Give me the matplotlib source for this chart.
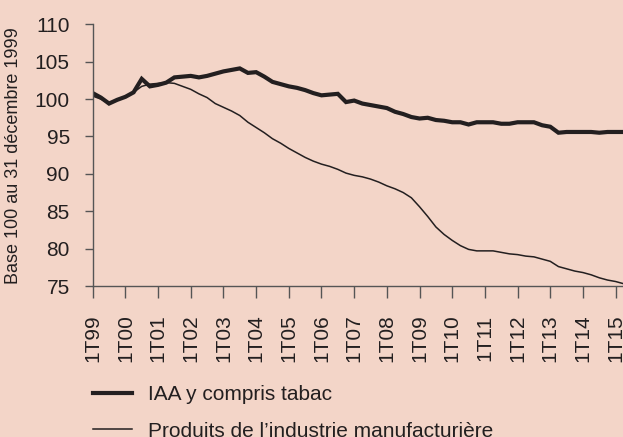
import matplotlib
matplotlib.use("Agg")
import matplotlib.pyplot as plt
import numpy as np

plt.rcParams['font.family'] = ['Liberation Sans', 'DejaVu Sans']

# Trimestres de 1T99 à 2T15
trimestres = np.arange(66)
annees = ["99", "00", "01", "02", "03", "04", "05", "06", "07", "08",
          "09", "10", "11", "12", "13", "14", "15"]
tick_labels = ["1T" + a for a in annees]

iaa = [100.8, 100.2, 99.4, 99.9, 100.3, 100.9, 102.7, 101.7, 101.9, 102.2,
       102.9, 103.0, 103.1, 102.9, 103.1, 103.4, 103.7, 103.9, 104.1, 103.5,
       103.6, 103.0, 102.3, 102.0, 101.7, 101.5, 101.2, 100.8, 100.5, 100.6,
       100.7, 99.6, 99.8, 99.4, 99.2, 99.0, 98.8, 98.3, 98.0, 97.6,
       97.4, 97.5, 97.2, 97.1, 96.9, 96.9, 96.6, 96.9, 96.9, 96.9,
       96.7, 96.7, 96.9, 96.9, 96.9, 96.5, 96.3, 95.5, 95.6, 95.6,
       95.6, 95.6, 95.5, 95.6, 95.6, 95.6]

manuf = [100.4, 100.0, 99.5, 99.9, 100.3, 100.9, 101.7, 102.0, 102.1, 102.2,
         102.1, 101.7, 101.3, 100.7, 100.2, 99.4, 98.9, 98.4, 97.8, 96.9,
         96.2, 95.5, 94.7, 94.1, 93.4, 92.8, 92.2, 91.7, 91.3, 91.0,
         90.6, 90.1, 89.8, 89.6, 89.3, 88.9, 88.4, 88.0, 87.5, 86.8,
         85.6, 84.3, 82.9, 81.9, 81.1, 80.4, 79.9, 79.7, 79.7, 79.7,
         79.5, 79.3, 79.2, 79.0, 78.9, 78.6, 78.3, 77.6, 77.3, 77.0,
         76.8, 76.5, 76.1, 75.8, 75.6, 75.3]

fond = "#F3D5C8"
trait = "#231F20"

fig = plt.figure(figsize=(6.23, 4.37), dpi=100, facecolor=fond)
ax = fig.add_axes([0.1488, 0.3455, 0.8512, 0.5989], facecolor=fond)

ax.plot(trimestres, iaa, color=trait, lw=3.0, label="IAA y compris tabac",
        solid_joinstyle="miter")
ax.plot(trimestres, manuf, color=trait, lw=1.1,
        label="Produits de l’industrie manufacturière")

ax.set_xlim(0, 64.9)
ax.set_ylim(75, 110)
ax.set_yticks(np.arange(75, 111, 5))
ax.set_xticks(np.arange(0, 65, 4))
ax.set_xticklabels(tick_labels, rotation=90)

for s in ["top", "right"]:
    ax.spines[s].set_visible(False)
for s in ["left", "bottom"]:
    ax.spines[s].set_color("#555555")
    ax.spines[s].set_linewidth(1.0)

ax.tick_params(axis="y", length=5.5, width=1.0, color="#555555",
               labelsize=15, labelcolor=trait, pad=11)
ax.tick_params(axis="x", length=8.5, width=1.0, color="#555555",
               labelsize=15, labelcolor=trait, pad=12)

ax.set_ylabel("Base 100 au 31 décembre 1999", fontsize=13, color=trait)
ax.yaxis.set_label_coords(-0.133, 0.5)

ax.legend(loc="upper left", bbox_to_anchor=(0.149, 0.118),
          bbox_transform=fig.transFigure, frameon=False, fontsize=15,
          handlelength=1.9, handletextpad=0.75, labelspacing=0.83,
          borderaxespad=0, borderpad=0, labelcolor=trait)

fig.savefig("out.png", dpi=100, facecolor=fond)
